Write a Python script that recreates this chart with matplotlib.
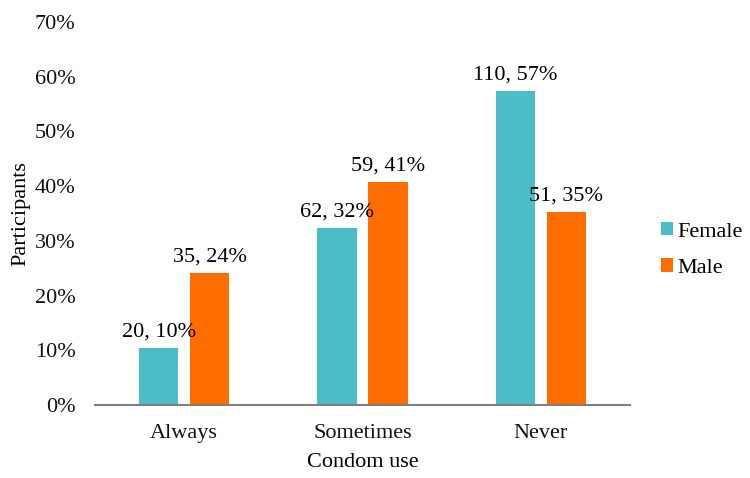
import matplotlib
matplotlib.use("Agg")
import matplotlib.pyplot as plt
from matplotlib.ticker import FuncFormatter
import numpy as np

categories = ["Always", "Sometimes", "Never"]
female_pct = [10.4, 32.3, 57.3]
male_pct = [24.1, 40.7, 35.2]
female_labels = ["20, 10%", "62, 32%", "110, 57%"]
male_labels = ["35, 24%", "59, 41%", "51, 35%"]
yticks = [0, 10, 20, 30, 40, 50, 60, 70]

plt.rcParams['font.family'] = ['Liberation Serif', 'DejaVu Serif']
fs = 16

fig = plt.figure(figsize=(7.5, 4.78), dpi=100)
ax = fig.add_axes([95/750, 1-405/478, 535/750, (405-22)/478])

x = np.arange(len(categories))
w = 0.22
off = 0.143
c_f = "#4ABDC6"
c_m = "#FF6D00"
ax.bar(x - off, female_pct, w, color=c_f, label="Female")
ax.bar(x + off, male_pct, w, color=c_m, label="Male")

for xi, v, t in zip(x - off, female_pct, female_labels):
    ax.annotate(t, (xi, v), xytext=(0, 5), textcoords="offset points",
                ha="center", va="bottom", fontsize=fs)
for xi, v, t in zip(x + off, male_pct, male_labels):
    ax.annotate(t, (xi, v), xytext=(0, 5), textcoords="offset points",
                ha="center", va="bottom", fontsize=fs)

ax.set_xlim(-0.5, 2.5)
ax.set_ylim(0, 70)
ax.set_yticks(yticks)
ax.yaxis.set_major_formatter(FuncFormatter(lambda v, p: f"{int(v)}%"))
ax.set_xticks(x)
ax.set_xticklabels(categories)
ax.tick_params(axis='both', length=0, labelsize=fs, colors="#111111")
ax.tick_params(axis='y', pad=14)
ax.tick_params(axis='x', pad=14)
for s in ["top", "right", "left"]:
    ax.spines[s].set_visible(False)
ax.spines["bottom"].set_color("#7f7f7f")
ax.spines["bottom"].set_linewidth(1.5)

ax.set_xlabel("Condom use", fontsize=fs, labelpad=7)
ax.set_ylabel("Participants", fontsize=fs, labelpad=3)

ax.legend(loc="center left", bbox_to_anchor=(1.0, 0.405), frameon=False,
          fontsize=fs, handlelength=0.55, handleheight=0.55,
          handletextpad=0.2, labelspacing=0.75, borderaxespad=1.0)

fig.savefig("out.png", dpi=100)
